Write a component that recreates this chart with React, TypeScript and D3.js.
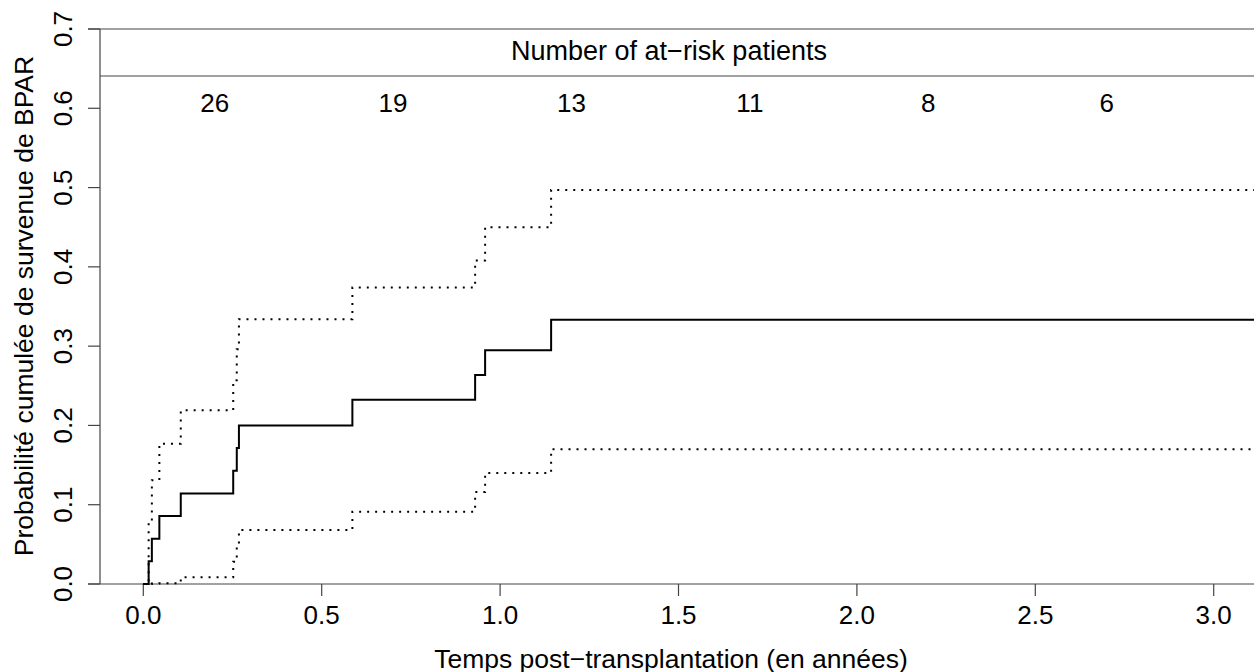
import React from "react";
import * as d3 from "d3";

const W = 1254;
const H = 672;

// Step times (years) and cumulative incidence values
const stepTimes = [0.015, 0.024, 0.045, 0.105, 0.252, 0.262, 0.268, 0.586, 0.93, 0.958, 1.143];
const estimate = [0.0286, 0.0571, 0.0857, 0.1143, 0.1429, 0.1714, 0.2, 0.2324, 0.2636, 0.2948, 0.3333];
const upperCI = [0.08, 0.131, 0.177, 0.219, 0.257, 0.296, 0.334, 0.374, 0.408, 0.45, 0.497];
const lowerCI = [0.0, 0.0005, 0.001, 0.0085, 0.028, 0.048, 0.068, 0.091, 0.116, 0.14, 0.17];

const xTicks = [0, 0.5, 1, 1.5, 2, 2.5, 3];
const yTicks = [0, 0.1, 0.2, 0.3, 0.4, 0.5, 0.6, 0.7];
const atRiskTimes = [0.2, 0.7, 1.2, 1.7, 2.2, 2.7];
const atRiskCounts = [26, 19, 13, 11, 8, 6];
const endTime = 3.3;

const FONT = "'Liberation Sans', Arial, Helvetica, sans-serif";

export default function App() {
  const x = d3.scaleLinear().domain([0, 3]).range([143.3, 1213.7]);
  const y = d3.scaleLinear().domain([0, 0.7]).range([584, 29]);

  const mk = (vals: number[]) => {
    const pts: [number, number][] = [[0, 0]];
    stepTimes.forEach((t, i) => pts.push([t, vals[i]]));
    pts.push([endTime, vals[vals.length - 1]]);
    return d3
      .line<[number, number]>()
      .x((d) => x(d[0]))
      .y((d) => y(d[1]))
      .curve(d3.curveStepAfter)(pts) as string;
  };

  const axisColor = "#444";
  const plotLeft = 100;
  const tickLen = 12;
  const y0 = y(0);
  const yTop = y(0.7);
  const yHeader = 76;
  const fsTick = 26;
  const fsLab = 26.5;

  return (
    <svg
      width={W}
      height={H}
      style={{ position: "absolute", left: 0, top: 0, background: "#fff" }}
      fontFamily={FONT}
    >
      <rect x={0} y={0} width={W} height={H} fill="#fff" />
      {/* frame lines */}
      <line x1={plotLeft} x2={plotLeft} y1={yTop} y2={y0} stroke={axisColor} strokeWidth={1.2} />
      <line x1={plotLeft - tickLen} x2={W} y1={y0} y2={y0} stroke={axisColor} strokeWidth={1.2} />
      <line x1={plotLeft - tickLen} x2={W} y1={yTop} y2={yTop} stroke={axisColor} strokeWidth={1.2} />
      <line x1={plotLeft} x2={W} y1={yHeader} y2={yHeader} stroke={axisColor} strokeWidth={1.2} />

      {/* y ticks */}
      {yTicks.map((t) => (
        <g key={"y" + t}>
          <line x1={plotLeft - tickLen} x2={plotLeft} y1={y(t)} y2={y(t)} stroke={axisColor} strokeWidth={1.2} />
          <text
            x={72}
            y={y(t)}
            transform={`rotate(-90, 72, ${y(t)})`}
            textAnchor="middle"
            fontSize={fsTick}
            fill="#000"
          >
            {t.toFixed(1)}
          </text>
        </g>
      ))}

      {/* x ticks */}
      {xTicks.map((t) => (
        <g key={"x" + t}>
          <line x1={x(t)} x2={x(t)} y1={y0} y2={y0 + tickLen} stroke={axisColor} strokeWidth={1.2} />
          <text x={x(t)} y={624} textAnchor="middle" fontSize={fsTick} fill="#000">
            {t.toFixed(1)}
          </text>
        </g>
      ))}

      {/* header */}
      <text x={669} y={59.5} textAnchor="middle" fontSize={27} fill="#000">
        Number of at−risk patients
      </text>
      {atRiskTimes.map((t, i) => (
        <text key={"r" + t} x={x(t)} y={111.5} textAnchor="middle" fontSize={fsTick} fill="#000">
          {atRiskCounts[i]}
        </text>
      ))}

      {/* axis labels */}
      <text x={671} y={668} textAnchor="middle" fontSize={fsLab} fill="#000">
        Temps post−transplantation (en années)
      </text>
      <text
        x={33}
        y={306}
        transform="rotate(-90, 33, 306)"
        textAnchor="middle"
        fontSize={fsLab}
        fill="#000"
      >
        Probabilité cumulée de survenue de BPAR
      </text>

      {/* curves */}
      <path d={mk(upperCI)} fill="none" stroke="#000" strokeWidth={2} strokeDasharray="2,6" />
      <path d={mk(lowerCI)} fill="none" stroke="#000" strokeWidth={2} strokeDasharray="2,6" />
      <path d={mk(estimate)} fill="none" stroke="#000" strokeWidth={2} />
    </svg>
  );
}
